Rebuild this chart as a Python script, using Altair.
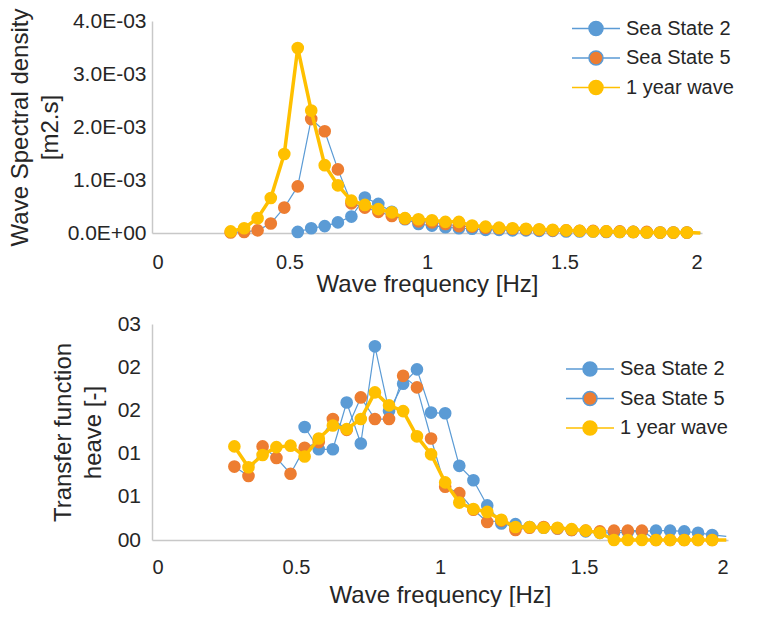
import altair as alt
import pandas as pd

# ---------------- data ----------------
series_names = ["Sea State 2", "Sea State 5", "1 year wave"]

freq = [0.286, 0.335, 0.384, 0.432, 0.481, 0.530, 0.579, 0.628, 0.676, 0.725,
        0.774, 0.823, 0.872, 0.920, 0.969, 1.018, 1.067, 1.116, 1.164, 1.213,
        1.262, 1.311, 1.360, 1.408, 1.457, 1.506, 1.555, 1.604, 1.652, 1.701,
        1.750, 1.799, 1.848, 1.896, 1.945, 1.994]
# last point of each series is drawn by the line only (no marker)
has_marker = [True] * 35 + [False]

# wave spectral density, in 1E-03 m2.s
psd_ss2 = [None, None, None, None, None, 0.02, 0.09, 0.13, 0.20, 0.31,
           0.67, 0.55, 0.40, 0.26, 0.17, 0.14, 0.11, 0.09, 0.08, 0.06,
           0.06, 0.05, 0.05, 0.04, 0.04, 0.03, 0.03, 0.03, 0.02, 0.02,
           0.02, 0.01, 0.01, 0.01, 0.01, 0.00]
psd_ss5 = [0.01, 0.02, 0.05, 0.18, 0.48, 0.88, 2.15, 1.92, 1.20, 0.56,
           0.48, 0.40, 0.32, 0.27, 0.22, 0.20, 0.17, 0.13, 0.12, 0.10,
           0.09, 0.08, 0.07, 0.06, 0.05, 0.05, 0.04, 0.04, 0.03, 0.03,
           0.02, 0.02, 0.01, 0.01, 0.01, 0.00]
psd_1yr = [0.03, 0.09, 0.28, 0.66, 1.49, 3.49, 2.31, 1.28, 0.90, 0.61,
           0.53, 0.45, 0.39, 0.28, 0.26, 0.24, 0.21, 0.21, 0.14, 0.12,
           0.10, 0.09, 0.08, 0.07, 0.06, 0.05, 0.04, 0.03, 0.03, 0.02,
           0.02, 0.01, 0.01, 0.01, 0.01, 0.00]

# transfer function heave (axis units)
rao_ss2 = [None, None, None, None, None, 1.57, 1.26, 1.26, 1.91, 1.34,
           2.69, 1.79, 2.17, 2.37, 1.77, 1.76, 1.03, 0.83, 0.48, 0.23,
           0.22, 0.18, 0.17, 0.16, 0.14, 0.12, 0.10, 0.10, 0.11, 0.12,
           0.13, 0.13, 0.12, 0.10, 0.07, 0.05]
rao_ss5 = [1.02, 0.89, 1.30, 1.14, 0.92, 1.28, 1.36, 1.68, 1.53, 1.98,
           1.68, 1.68, 2.28, 2.12, 1.41, 0.74, 0.65, 0.42, 0.25, 0.27,
           0.14, 0.17, 0.18, 0.16, 0.14, 0.13, 0.12, 0.13, 0.13, 0.13,
           0.00, 0.00, 0.00, 0.00, 0.00, 0.00]
rao_1yr = [1.30, 1.01, 1.18, 1.29, 1.31, 1.16, 1.41, 1.59, 1.54, 1.68,
           2.05, 1.87, 1.79, 1.44, 1.19, 0.80, 0.52, 0.43, 0.39, 0.28,
           0.18, 0.18, 0.17, 0.17, 0.15, 0.13, 0.10, 0.00, 0.00, 0.00,
           0.00, 0.00, 0.00, 0.00, 0.00, 0.00]

x_ticks = [0, 0.5, 1, 1.5, 2]
psd_ticks = [0, 0.001, 0.002, 0.003, 0.004]
psd_tick_labels = ["0.0E+00", "1.0E-03", "2.0E-03", "3.0E-03", "4.0E-03"]
rao_ticks = [0, 0.6, 1.2, 1.8, 2.4, 3.0]
rao_tick_labels = ["00", "01", "01", "02", "02", "03"]

line_colors = ["#5B9BD5", "#5B9BD5", "#FFC000"]
marker_colors = ["#5B9BD5", "#ED7D31", "#FFC000"]
line_widths = [1.2, 1.2, 3.5]

FONT = "Liberation Sans"
TXT = "#262626"


def long_df(values_by_series, factor=1.0):
    rows = []
    for name, vals in zip(series_names, values_by_series):
        for f, v, m in zip(freq, vals, has_marker):
            rows.append({"f": f, "v": None if v is None else v * factor,
                         "series": name, "marker": m})
    return pd.DataFrame(rows)


def label_expr(ticks, labels):
    t = ",".join(repr(x) for x in ticks)
    l = ",".join("'" + s + "'" for s in labels)
    return f"[{l}][indexof([{t}], datum.value)]"


R = 0.467
LEG_PATH = (f"M-1.6,0L-{R},0M{R},0L1.6,0"
            f"M-{R},0A{R},{R},0,1,1,{R},0A{R},{R},0,1,1,-{R},0Z")


def panel(df, ytitle, ydomain, yticks, ylabels, w, h, leg_x, leg_y,
          y_lab_pad, y_title_pad, x_lab_pad, x_title_pad):
    legend = alt.Legend(
        title=None, orient="none", legendX=leg_x, legendY=leg_y,
        symbolType=LEG_PATH, symbolSize=900, symbolStrokeWidth=1.5,
        labelFont=FONT, labelFontSize=20, labelColor=TXT, labelOffset=14,
        rowPadding=2.5, padding=0, labelLimit=300,
    )
    x = alt.X("f:Q", scale=alt.Scale(domain=[0, 2], nice=False),
              axis=alt.Axis(values=x_ticks, format="~g",
                            title="Wave frequency [Hz]",
                            labelPadding=x_lab_pad, titlePadding=x_title_pad,
                            labelFontSize=20))
    y = alt.Y("v:Q", scale=alt.Scale(domain=ydomain, nice=False),
              axis=alt.Axis(values=yticks, labelExpr=label_expr(yticks, ylabels),
                            title=ytitle, labelPadding=y_lab_pad,
                            titlePadding=y_title_pad, labelFontSize=21,
                            titleLineHeight=30))
    stroke = alt.Stroke("series:N", scale=alt.Scale(domain=series_names, range=line_colors),
                        legend=legend)
    fill = alt.Fill("series:N", scale=alt.Scale(domain=series_names, range=marker_colors),
                    legend=legend)
    layers = []
    for s, lw in zip(series_names, line_widths):
        base = alt.Chart(df).transform_filter(alt.datum.series == s)
        layers.append(base.mark_line(strokeJoin="round", strokeWidth=lw).encode(
            x=x, y=y, stroke=stroke, order="f:Q"))
        layers.append(base.transform_filter(alt.datum.marker).mark_point(
            filled=True, size=160, opacity=1, strokeWidth=0).encode(
            x=x, y=y, fill=fill))
    return alt.layer(*layers).properties(width=w, height=h)


top = panel(long_df([psd_ss2, psd_ss5, psd_1yr], 1e-3),
            ["Wave Spectral density", "[m2.s]"], [0, 0.004], psd_ticks, psd_tick_labels,
            550, 212, 428, -8.5, 6, 5, 19, 0)
bottom = panel(long_df([rao_ss2, rao_ss5, rao_1yr]),
               ["Transfer function", "heave [-]"], [0, 3], rao_ticks, rao_tick_labels,
               576, 216, 422, 29, 11.5, 11.5, 17, 6)

chart = alt.vconcat(top, bottom, spacing=17).resolve_scale(
    fill="independent", stroke="independent"
).resolve_legend(fill="independent", stroke="independent").properties(
    padding={"left": 0, "top": 0, "right": 0, "bottom": 0}
).configure_view(stroke=None).configure_axis(
    grid=False, ticks=False, tickSize=0, domainColor="#C8C8C8", domainWidth=1.5,
    labelFont=FONT, labelColor=TXT, titleFont=FONT, titleColor=TXT,
    titleFontSize=24, titleFontWeight="normal",
)

chart.save("out.html", embed_options={"renderer": "svg", "actions": False})
